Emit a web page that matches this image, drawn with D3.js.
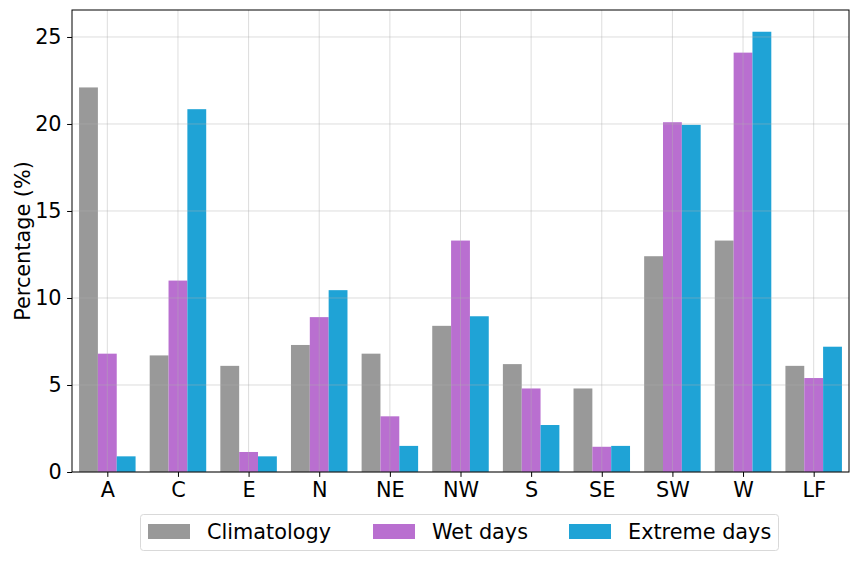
<!DOCTYPE html>
<html>
<head>
<meta charset="utf-8">
<script src="https://cdn.jsdelivr.net/npm/d3@7"></script>
<style>
  body { margin: 0; background: #fff; }
  svg { font-family: "DejaVu Sans", sans-serif; }
</style>
</head>
<body>
<div id="chart"></div>
<script>
// categories and series
const categories = ["A", "C", "E", "N", "NE", "NW", "S", "SE", "SW", "W", "LF"];
const climatology = [22.1, 6.7, 6.1, 7.3, 6.8, 8.4, 6.2, 4.8, 12.4, 13.3, 6.1];
const wetDays     = [6.8, 11.0, 1.15, 8.9, 3.2, 13.3, 4.8, 1.45, 20.1, 24.1, 5.4];
const extremeDays = [0.9, 20.85, 0.9, 10.45, 1.5, 8.95, 2.7, 1.5, 19.95, 25.3, 7.2];
const seriesNames = ["Climatology", "Wet days", "Extreme days"];
const colors = ["#999999", "#b96fd0", "#1fa3d6"];
const yTicks = [0, 5, 10, 15, 20, 25];

const width = 856, height = 561;
const margin = { left: 72, right: 7, top: 10, bottom: 89 };
const plotW = width - margin.left - margin.right;
const plotH = height - margin.top - margin.bottom;
const fontSize = 20.8;

const svg = d3.select("#chart").append("svg")
  .attr("width", width)
  .attr("height", height);

const g = svg.append("g").attr("transform", `translate(${margin.left},${margin.top})`);

// scales
const x = d3.scaleLinear().domain([-0.5, categories.length - 0.5]).range([0, plotW]);
const y = d3.scaleLinear().domain([0, 26.55]).range([plotH, 0]);
const barW = 0.8 / 3;

const series = [climatology, wetDays, extremeDays];

// bars
series.forEach((vals, s) => {
  g.append("g").selectAll("rect")
    .data(vals)
    .enter()
    .append("rect")
    .attr("x", (d, i) => x(i + (s - 1) * barW - barW / 2))
    .attr("width", x(barW) - x(0))
    .attr("y", d => y(d))
    .attr("height", d => y(0) - y(d))
    .attr("fill", colors[s]);
});

// grid on top of bars
const grid = g.append("g").attr("stroke", "#b0b0b0").attr("stroke-opacity", 0.55).attr("stroke-width", 0.8);
grid.selectAll("line.v").data(categories).enter().append("line")
  .attr("x1", (d, i) => x(i)).attr("x2", (d, i) => x(i))
  .attr("y1", 0).attr("y2", plotH);
grid.selectAll("line.h").data(yTicks).enter().append("line")
  .attr("x1", 0).attr("x2", plotW)
  .attr("y1", d => y(d)).attr("y2", d => y(d));

// axes
const xAxis = d3.axisBottom(x)
  .tickValues(d3.range(categories.length))
  .tickFormat(i => categories[i])
  .tickSizeOuter(0)
  .tickSize(4.9)
  .tickPadding(5.5);
const yAxis = d3.axisLeft(y)
  .tickValues(yTicks)
  .tickSizeOuter(0)
  .tickSize(4.9)
  .tickPadding(5.5);

const gx = g.append("g").attr("transform", `translate(0,${plotH})`).call(xAxis);
const gy = g.append("g").call(yAxis);
[gx, gy].forEach(a => {
  a.attr("font-size", fontSize).attr("font-family", "DejaVu Sans");
  a.select(".domain").remove();
  a.selectAll("text").attr("fill", "#000");
  a.selectAll("line").attr("stroke", "#000").attr("stroke-width", 1);
});

// frame
g.append("rect")
  .attr("width", plotW).attr("height", plotH)
  .attr("fill", "none").attr("stroke", "#000").attr("stroke-width", 1);

// y label
svg.append("text")
  .attr("transform", `translate(29.5,${margin.top + plotH / 2}) rotate(-90)`)
  .attr("text-anchor", "middle")
  .attr("font-size", fontSize)
  .text("Percentage (%)");

// legend
const legend = svg.append("g");
legend.append("rect")
  .attr("x", 140.5).attr("y", 514.5).attr("width", 638).attr("height", 36)
  .attr("rx", 3).attr("fill", "#fff").attr("stroke", "#d9d9d9").attr("stroke-width", 1);
const legendX = [148, 373, 569];
seriesNames.forEach((name, s) => {
  legend.append("rect")
    .attr("x", legendX[s]).attr("y", 524).attr("width", 42).attr("height", 15)
    .attr("fill", colors[s]);
  legend.append("text")
    .attr("x", legendX[s] + 59).attr("y", 532)
    .attr("dy", "0.35em")
    .attr("font-size", fontSize)
    .text(name);
});
</script>
</body>
</html>
